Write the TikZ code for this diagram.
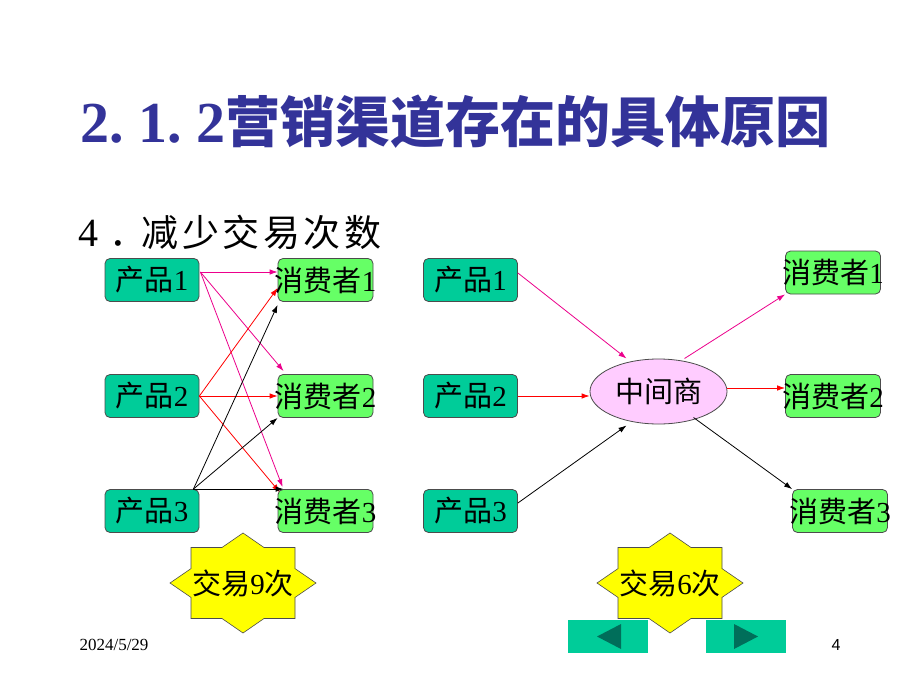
\documentclass[tikz,border=0pt]{standalone}
\usepackage{fontspec}
\setmainfont{Liberation Serif}
\newfontfamily\cjk{Noto Sans CJK SC}
\newfontfamily\sansf{Liberation Sans}
\usetikzlibrary{arrows.meta,shapes.geometric,calc}
\definecolor{tealc}{RGB}{0,204,153}
\definecolor{greenc}{RGB}{102,255,102}
\definecolor{pinkc}{RGB}{255,204,255}
\definecolor{yellowc}{RGB}{255,255,0}
\definecolor{titleblue}{RGB}{51,51,153}
\definecolor{tridark}{RGB}{0,110,90}
\newcommand\lbl[2]{\makebox[0pt]{{\cjk #1}#2}}
\newcommand\cell[2][c]{\makebox[#2][#1]}
\begin{document}
\begin{tikzpicture}[x=1pt,y=-1pt,
  prod/.style={draw=black!70, fill=tealc, rounded corners=5pt, minimum width=94pt,
    minimum height=43pt, inner sep=0pt, line width=0.8pt, font=\fontsize{29}{29}\selectfont},
  cons/.style={prod, fill=greenc, minimum width=95pt},
  mid/.style={ellipse, draw=black!70, fill=pinkc, minimum width=137pt, minimum height=65pt,
    inner sep=0pt, line width=0.8pt, font=\fontsize{29}{29}\selectfont},
  arr/.style={-{Latex[length=8pt,width=5.5pt]}, line width=0.8pt},
  starbg/.style={draw=black!70, fill=yellowc, line width=0.6pt},
  btn/.style={fill=tealc, minimum width=80pt, minimum height=33pt, inner sep=0pt},
  tri/.style={fill=tridark},
  labtxt/.style={inner sep=0pt, font=\fontsize{29}{29}\selectfont}]
\fill[white] (0,0) rectangle (920,690);
\useasboundingbox (0,0) rectangle (920,690);

% title
\node[anchor=west, inner sep=0pt, text=titleblue] (title) at (80,122)
  {\fontsize{58}{58}\selectfont\bfseries\cell{29pt}{2}\cell[l]{29pt}{.}\cell{29pt}{1}\cell[l]{29pt}{.}\cell{29pt}{2}%
   {\cjk\fontsize{55}{55}\selectfont\bfseries 营销渠道存在的具体原因}};
% subtitle
\node[anchor=west, inner sep=0pt] (sub) at (78,232)
  {\fontsize{40}{40}\selectfont\cell[l]{31pt}{4}\cell[l]{31pt}{\cjk\fontsize{37}{37}\selectfont ．}%
   \cjk\fontsize{37}{37}\selectfont\cell{40.5pt}{减}\cell{40.5pt}{少}\cell{40.5pt}{交}\cell{40.5pt}{易}\cell{40.5pt}{次}\cell{40.5pt}{数}};

% left group
\node[prod] (p1) at (152,280) {\lbl{产品}{1}};
\node[prod] (p2) at (152,396) {\lbl{产品}{2}};
\node[prod] (p3) at (152,511) {\lbl{产品}{3}};
\node[cons] (c1) at (325.5,280) {\lbl{消费者}{1}};
\node[cons] (c2) at (325.5,396) {\lbl{消费者}{2}};
\node[cons] (c3) at (325.5,511) {\lbl{消费者}{3}};

\draw[arr, magenta] ($(p1.east)+(1,-8)$) -- ($(c1.west)+(0,-8)$);
\draw[arr, magenta] ($(p1.east)+(1,-8)$) -- ($(c2.north west)+(6,-3)$);
\draw[arr, magenta] ($(p1.east)+(1,-8)$) -- ($(c3.north west)+(5,-2)$);
\draw[arr, red] (p2.east) -- ($(c1.west)+(0,8)$);
\draw[arr, red] (p2.east) -- (c2.west);
\draw[arr, red] (p2.east) -- ($(c3.north west)+(2,3)$);
\draw[arr, black] ($(p3.north east)+(-6,0)$) -- ($(c1.south west)+(0,3)$);
\draw[arr, black] ($(p3.north east)+(-6,0)$) -- (c2.south west);
\draw[arr, black] ($(p3.north east)+(-6,0)$) -- ($(c3.north west)+(6,0)$);

% right group
\node[prod] (q1) at (470.5,280) {\lbl{产品}{1}};
\node[prod] (q2) at (470.5,396) {\lbl{产品}{2}};
\node[prod] (q3) at (470.5,511) {\lbl{产品}{3}};
\node[mid] (m) at (658.5,391.5) {\cjk 中间商};
\node[cons] (d1) at (833,272.5) {\lbl{消费者}{1}};
\node[cons] (d2) at (833,396) {\lbl{消费者}{2}};
\node[cons] (d3) at (840,511) {\lbl{消费者}{3}};

\draw[arr, magenta] ($(q1.east)+(0,-7)$) -- ($(m.center)+(-32,-33)$);
\draw[arr, red] (q2.east) -- (q2.east -| m.west);
\draw[arr, black] ($(q3.east)+(0,-8)$) -- ($(m.center)+(-32,34)$);
\draw[arr, magenta] ($(m.center)+(26,-33)$) -- (d1.south west);
\draw[arr, red] ($(m.east)+(0,-3.5)$) -- ($(d2.west)+(0,-8)$);
\draw[arr, black] ($(m.center)+(35,26)$) -- (d3.north west);

% stars
\foreach \cx/\nm/\n in {243/s9/9, 670/s6/6} {
  \path[starbg, shift={(\cx,583)}] (0,-50) -- (21,-35.5) -- (52,-35.5) -- (52,-14.4) -- (73,0)
    -- (52,14.4) -- (52,35.5) -- (21,35.5) -- (0,50) -- (-21,35.5) -- (-52,35.5) -- (-52,14.4)
    -- (-73,0) -- (-52,-14.4) -- (-52,-35.5) -- (-21,-35.5) -- cycle;
  \node[labtxt] (\nm) at (\cx,583) {{\cjk 交易}\n{\cjk 次}};
}

% navigation buttons
\node[btn] (bl) at (608,636.5) {};
\node[btn] (br) at (746,636.5) {};
\fill[tri] ($(bl.center)+(-11,0)$) -- ($(bl.center)+(13,-12.5)$) -- ($(bl.center)+(13,12.5)$) -- cycle;
\fill[tri] ($(br.center)+(-12,-12.5)$) -- ($(br.center)+(-12,12.5)$) -- ($(br.center)+(12,0)$) -- cycle;

% footer
\node[inner sep=0pt] (date) at (114,645) {\fontsize{17}{17}\selectfont 2024/5/29};
\node[inner sep=0pt] (pg) at (836,645) {\sansf\fontsize{16}{16}\selectfont 4};
\end{tikzpicture}
\end{document}
